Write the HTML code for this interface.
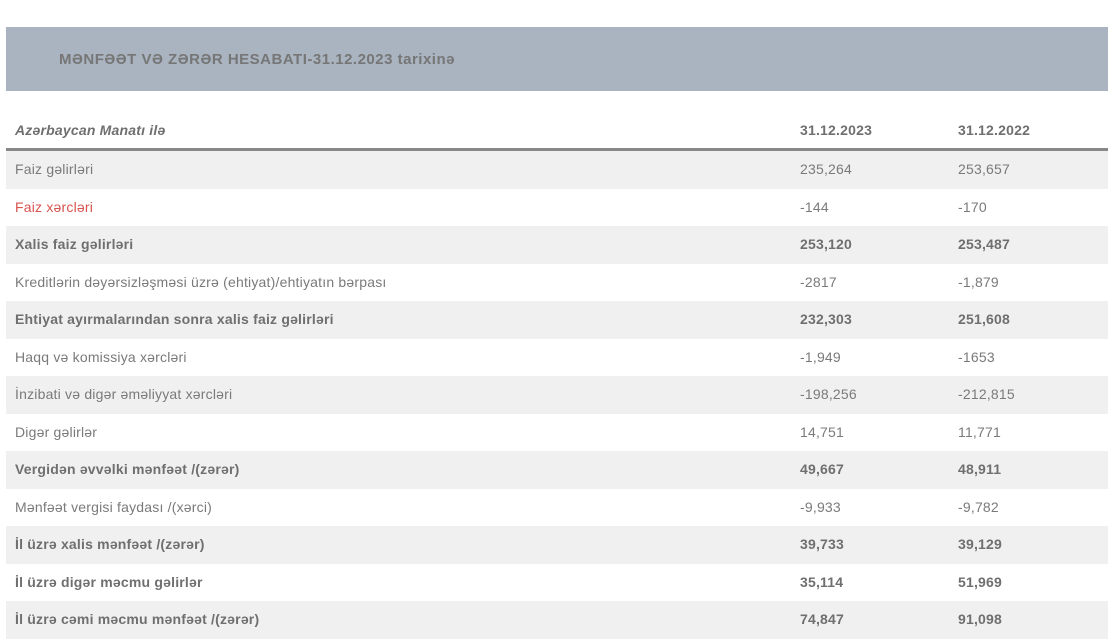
<!DOCTYPE html>
<html><head><meta charset="utf-8"><style>
body{margin:0;width:1118px;height:636px;overflow:hidden;background:#fff;font-family:"Liberation Sans",sans-serif;color:#7a7a7a;}
.hdr{position:absolute;left:6px;top:27px;width:1102px;height:64px;background:#a9b4c0;}
.hdr span{position:absolute;left:53px;top:24px;font-size:15px;font-weight:bold;color:#767676;letter-spacing:0.5px;}
.th{position:absolute;top:122px;font-size:14px;font-weight:bold;color:#6f6f6f;letter-spacing:0.2px;}
.line{position:absolute;left:6px;top:148px;width:1102px;height:3px;background:#888;}
.row{position:absolute;left:6px;width:1102px;height:37.5px;font-size:14px;letter-spacing:0.2px;}
.row.s{background:#f0f0f0;}
.row div{position:absolute;top:10px;}
.a{left:9px}.b{left:794px}.c{left:952px}
.row.bd{font-weight:bold;color:#6f6f6f}
</style></head><body>
<div class="hdr"><span>MƏNFƏƏT VƏ ZƏRƏR HESABATI-31.12.2023 tarixinə</span></div>
<div class="th" style="left:15px;font-style:italic">Azərbaycan Manatı ilə</div>
<div class="th" style="left:800px">31.12.2023</div>
<div class="th" style="left:958px">31.12.2022</div>
<div class="line"></div>
<div class="row s" style="top:151px"><div class="a">Faiz gəlirləri</div><div class="b">235,264</div><div class="c">253,657</div></div>
<div class="row" style="top:188.5px"><div class="a" style="color:#d9534f">Faiz xərcləri</div><div class="b">-144</div><div class="c">-170</div></div>
<div class="row s bd" style="top:226px"><div class="a">Xalis faiz gəlirləri</div><div class="b">253,120</div><div class="c">253,487</div></div>
<div class="row" style="top:263.5px"><div class="a">Kreditlərin dəyərsizləşməsi üzrə (ehtiyat)/ehtiyatın bərpası</div><div class="b">-2817</div><div class="c">-1,879</div></div>
<div class="row s bd" style="top:301px"><div class="a">Ehtiyat ayırmalarından sonra xalis faiz gəlirləri</div><div class="b">232,303</div><div class="c">251,608</div></div>
<div class="row" style="top:338.5px"><div class="a">Haqq və komissiya xərcləri</div><div class="b">-1,949</div><div class="c">-1653</div></div>
<div class="row s" style="top:376px"><div class="a">İnzibati və digər əməliyyat xərcləri</div><div class="b">-198,256</div><div class="c">-212,815</div></div>
<div class="row" style="top:413.5px"><div class="a">Digər gəlirlər</div><div class="b">14,751</div><div class="c">11,771</div></div>
<div class="row s bd" style="top:451px"><div class="a">Vergidən əvvəlki mənfəət /(zərər)</div><div class="b">49,667</div><div class="c">48,911</div></div>
<div class="row" style="top:488.5px"><div class="a">Mənfəət vergisi faydası /(xərci)</div><div class="b">-9,933</div><div class="c">-9,782</div></div>
<div class="row s bd" style="top:526px"><div class="a">İl üzrə xalis mənfəət /(zərər)</div><div class="b">39,733</div><div class="c">39,129</div></div>
<div class="row bd" style="top:563.5px"><div class="a">İl üzrə digər məcmu gəlirlər</div><div class="b">35,114</div><div class="c">51,969</div></div>
<div class="row s bd" style="top:601px"><div class="a">İl üzrə cəmi məcmu mənfəət /(zərər)</div><div class="b">74,847</div><div class="c">91,098</div></div>
</body></html>
